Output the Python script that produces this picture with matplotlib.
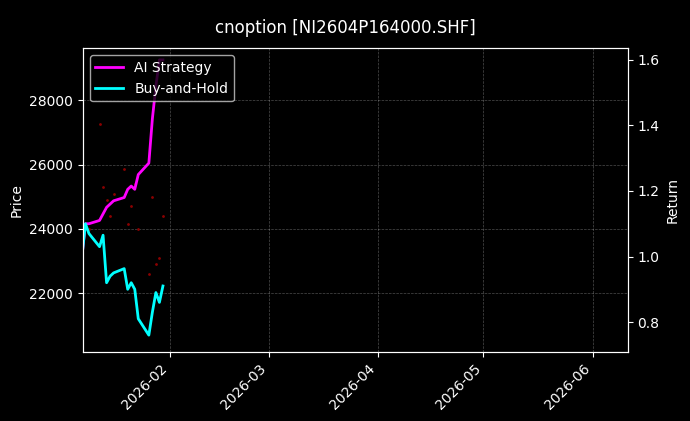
import matplotlib
matplotlib.use('Agg')
import matplotlib.pyplot as plt
import matplotlib.dates as mdates
import numpy as np
import pandas as pd

dates = pd.to_datetime(['2026-01-07', '2026-01-08', '2026-01-09', '2026-01-12', '2026-01-13',
                        '2026-01-14', '2026-01-15', '2026-01-16', '2026-01-19', '2026-01-20',
                        '2026-01-21', '2026-01-22', '2026-01-23', '2026-01-26', '2026-01-27',
                        '2026-01-28', '2026-01-29', '2026-01-30'])
price = [23900, 24100, 24000, 27250, 25300, 24900, 24400, 25100, 25850, 24150,
         24700, 25400, 24000, 22600, 25000, 22900, 23100, 24400]
ai_ret = [1.00, 1.10, 1.10, 1.11, 1.13, 1.15, 1.16, 1.17, 1.18, 1.205,
          1.215, 1.205, 1.25, 1.285, 1.42, 1.52, 1.60, 1.60]
bh_ret = [1.00, 1.10, 1.07, 1.03, 1.065, 0.92, 0.94, 0.95, 0.963, 0.90,
          0.92, 0.90, 0.81, 0.76, 0.83, 0.89, 0.86, 0.91]

plt.style.use('dark_background')
fig, ax = plt.subplots(figsize=(6.9, 4.21), dpi=100)
fig.suptitle('cnoption [NI2604P164000.SHF]', fontsize=12, y=0.955)
ax.plot(dates, price, linestyle='none', marker='o', markersize=1, color='#8b0000')
ax.set_ylabel('Price')
ax.set_ylim(20200, 29600)
ax.set_yticks([22000, 24000, 26000, 28000])
ax.grid(True, linestyle='--', linewidth=0.5, alpha=0.3)

ax2 = ax.twinx()
ax2.plot(dates, ai_ret, color='#ff00ff', linewidth=2, label='AI Strategy')
ax2.plot(dates, bh_ret, color='#00ffff', linewidth=2, label='Buy-and-Hold')
ax2.set_ylabel('Return')
ax2.set_ylim(0.71, 1.635)
ax2.legend(loc='upper left')

ax.set_xlim(pd.Timestamp('2026-01-07 06:00'), pd.Timestamp('2026-06-11'))
ax.xaxis.set_major_locator(mdates.MonthLocator(bymonth=[2, 3, 4, 5, 6]))
ax.xaxis.set_major_formatter(mdates.DateFormatter('%Y-%m'))
plt.setp(ax.get_xticklabels(), rotation=45, ha='right')

fig.subplots_adjust(left=0.12, right=0.91, top=0.885, bottom=0.165)
fig.savefig('out.png')
